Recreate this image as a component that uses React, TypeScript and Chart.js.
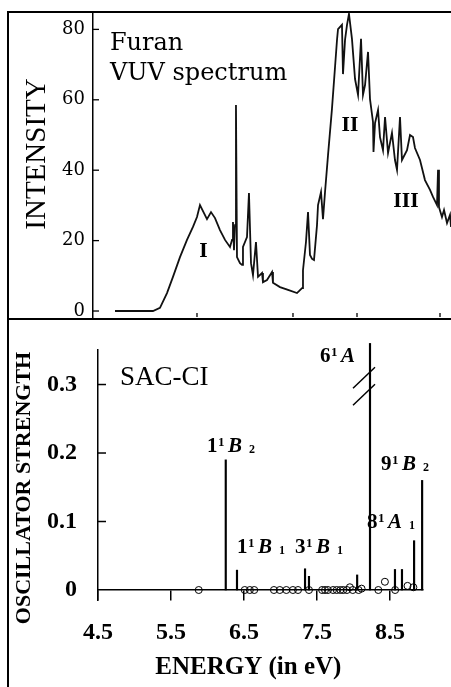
import React, { useEffect, useRef } from 'react';
import { Chart, registerables } from 'chart.js';

Chart.register(...registerables);

// ---------- Top panel: Furan VUV spectrum ----------
const TOP_ENERGY = [
  4.733, 5.253, 5.349, 5.445, 5.527, 5.623, 5.719, 5.801, 5.856, 5.897,
  5.952, 5.993, 6.048, 6.103, 6.171, 6.24, 6.308, 6.336, 6.349, 6.363,
  6.377, 6.39, 6.404, 6.445, 6.473, 6.486, 6.541, 6.568, 6.596, 6.623,
  6.664, 6.692, 6.747, 6.76, 6.815, 6.884, 6.897, 6.993, 7.103, 7.226,
  7.295, 7.308, 7.349, 7.377, 7.404, 7.432, 7.459, 7.5, 7.514, 7.555,
  7.582, 7.61, 7.651, 7.705, 7.747, 7.774, 7.788, 7.842, 7.856, 7.884,
  7.911, 7.938, 7.979, 8.021, 8.062, 8.103, 8.13, 8.158, 8.199, 8.226,
  8.267, 8.274, 8.295, 8.336, 8.363, 8.404, 8.432, 8.473, 8.527, 8.568,
  8.596, 8.637, 8.664, 8.733, 8.774, 8.815, 8.842, 8.911, 8.979, 9.048,
  9.089, 9.144, 9.158, 9.171, 9.212, 9.24, 9.281, 9.322, 9.336,
];
const TOP_INTENSITY = [
  0, 0, 0.9, 5.1, 9.7, 15.3, 20.2, 23.9, 26.7, 30.1,
  27.8, 26.1, 28.1, 26.4, 23.0, 20.2, 18.2, 20.2, 25.3, 17.3,
  24.4, 58.5, 15.3, 13.6, 13.1, 18.2, 21.0, 33.5, 13.6, 10.2,
  19.6, 9.7, 10.8, 8.2, 8.8, 11.1, 8.0, 6.8, 6.0, 5.1,
  6.5, 11.6, 19.6, 28.1, 15.9, 14.8, 14.5, 24.4, 30.1, 33.8,
  26.1, 33.8, 44.3, 57.4, 69.3, 77.0, 80.1, 81.3, 67.3, 77.0,
  81.3, 84.4, 77.3, 65.9, 61.4, 77.3, 61.4, 64.2, 73.6, 60.2,
  53.7, 45.2, 53.4, 57.1, 49.4, 45.7, 55.1, 44.9, 50.6, 42.9,
  40.1, 55.1, 42.9, 45.7, 50.0, 49.4, 46.3, 42.9, 37.2, 34.4,
  32.4, 30.1, 40.1, 29.5, 26.7, 28.7, 25.0, 27.3, 23.9,
];
const TOP_Y_TICKS = [0, 20, 40, 60, 80];
const TOP_X_MARKS = [5.856, 7.171, 8.048, 9.185];
const TOP_TITLE = ['Furan', 'VUV spectrum'];
const BAND_NAMES = ['I', 'II', 'III'];
const BAND_POS_E = [5.945, 7.952, 8.719];
const BAND_POS_I = [15.3, 51.1, 29.5];

// ---------- Bottom panel: SAC-CI oscillator strengths ----------
const STICK_ENERGY = [6.25, 6.404, 7.336, 7.39, 8.05, 8.226, 8.568, 8.664, 8.83, 8.94];
const STICK_STRENGTH = [0.19, 0.029, 0.031, 0.02, 0.022, 0.36, 0.03, 0.03, 0.072, 0.16];
const CIRCLE_ENERGY = [
  5.88, 6.51, 6.58, 6.64, 6.91, 6.99, 7.08, 7.17, 7.24, 7.39,
  7.57, 7.61, 7.65, 7.72, 7.77, 7.82, 7.86, 7.91, 7.95, 7.99,
  8.07, 8.11, 8.34, 8.43, 8.57, 8.74, 8.82,
];
const CIRCLE_STRENGTH = [
  0, 0, 0, 0, 0, 0, 0, 0, 0, 0,
  0, 0, 0, 0, 0, 0, 0, 0, 0.004, 0,
  0, 0.002, 0, 0.012, 0, 0.006, 0.004,
];
const BOTTOM_X_TICKS = [4.5, 5.5, 6.5, 7.5, 8.5];
const BOTTOM_Y_TICKS = [0, 0.1, 0.2, 0.3];
const STATE_NUM = ['1', '1', '3', '6', '8', '9'];
const STATE_MULT = ['1', '1', '1', '1', '1', '1'];
const STATE_SYM = ['B', 'B', 'B', 'A', 'A', 'B'];
const STATE_SUB = ['2', '1', '1', '', '1', '2'];
const STATE_AT_E = [5.993, 6.404, 7.199, 7.541, 8.185, 8.377];
const STATE_AT_F = [0.2015, 0.054, 0.054, 0.333, 0.0905, 0.175];
const BROKEN_STATE_E = 8.226;
const BREAK_AT = [0.318, 0.293];

const SERIF = '"Liberation Serif", "Times New Roman", serif';
const CENTURY = '"DejaVu Serif", serif';

function drawState(ctx: CanvasRenderingContext2D, x: number, y: number, num: string, mult: string, sym: string, sub: string) {
  ctx.fillStyle = '#000';
  ctx.textAlign = 'left';
  ctx.textBaseline = 'alphabetic';
  ctx.font = `bold 21px ${SERIF}`;
  ctx.fillText(num, x, y);
  x += ctx.measureText(num).width;
  ctx.font = `bold 13px ${SERIF}`;
  ctx.fillText(mult, x + 0.5, y - 6);
  x += ctx.measureText(mult).width + 4;
  ctx.font = `italic bold 21px ${SERIF}`;
  ctx.fillText(sym, x, y);
  x += ctx.measureText(sym).width + 7;
  if (sub) {
    ctx.font = `bold 12px ${SERIF}`;
    ctx.fillText(sub, x, y + 1);
  }
}

const topAnnotations = {
  id: 'topAnnotations',
  afterDraw(chart: any) {
    const ctx: CanvasRenderingContext2D = chart.ctx;
    const xs = chart.scales.x;
    const ys = chart.scales.y;
    const area = chart.chartArea;
    ctx.save();
    ctx.strokeStyle = '#000';
    ctx.lineWidth = 1.3;
    TOP_Y_TICKS.forEach((v) => {
      const py = ys.getPixelForValue(v);
      ctx.beginPath();
      ctx.moveTo(area.left, py);
      ctx.lineTo(area.left + 6, py);
      ctx.stroke();
    });
    TOP_X_MARKS.forEach((v) => {
      const px = xs.getPixelForValue(v);
      ctx.beginPath();
      ctx.moveTo(px, area.bottom);
      ctx.lineTo(px, area.bottom - 4);
      ctx.stroke();
    });
    ctx.fillStyle = '#000';
    ctx.font = `24px ${CENTURY}`;
    ctx.textAlign = 'left';
    ctx.textBaseline = 'alphabetic';
    ctx.fillText(TOP_TITLE[0], xs.getPixelForValue(4.664), ys.getPixelForValue(74.1));
    ctx.fillText(TOP_TITLE[1], xs.getPixelForValue(4.664), ys.getPixelForValue(65.6));
    ctx.font = `bold 18px ${CENTURY}`;
    ctx.textAlign = 'center';
    BAND_NAMES.forEach((b, i) => {
      ctx.fillText(b, xs.getPixelForValue(BAND_POS_E[i]), ys.getPixelForValue(BAND_POS_I[i]));
    });
    ctx.translate(37, 154);
    ctx.rotate(-Math.PI / 2);
    ctx.font = `29px ${SERIF}`;
    ctx.textAlign = 'center';
    ctx.textBaseline = 'middle';
    ctx.fillText('INTENSITY', 0, 0);
    ctx.restore();
  },
};

const bottomAnnotations = {
  id: 'bottomAnnotations',
  afterDraw(chart: any) {
    const ctx: CanvasRenderingContext2D = chart.ctx;
    const xs = chart.scales.x;
    const ys = chart.scales.y;
    const area = chart.chartArea;
    ctx.save();
    ctx.strokeStyle = '#000';
    ctx.lineWidth = 1.5;
    BOTTOM_Y_TICKS.forEach((v) => {
      if (v === 0) return;
      const py = ys.getPixelForValue(v);
      ctx.beginPath();
      ctx.moveTo(area.left, py);
      ctx.lineTo(area.left + 8, py);
      ctx.stroke();
    });
    const bx = xs.getPixelForValue(BROKEN_STATE_E);
    BREAK_AT.forEach((v) => {
      const py = ys.getPixelForValue(v);
      ctx.beginPath();
      ctx.moveTo(bx - 17, py + 16);
      ctx.lineTo(bx + 5, py - 5);
      ctx.stroke();
    });
    ctx.fillStyle = '#000';
    ctx.font = `27px ${SERIF}`;
    ctx.textAlign = 'left';
    ctx.textBaseline = 'alphabetic';
    ctx.fillText('SAC-CI', xs.getPixelForValue(4.8), ys.getPixelForValue(0.299));
    STATE_NUM.forEach((n, i) => {
      drawState(ctx, xs.getPixelForValue(STATE_AT_E[i]), ys.getPixelForValue(STATE_AT_F[i]), n, STATE_MULT[i], STATE_SYM[i], STATE_SUB[i]);
    });
    ctx.font = `bold 25px ${SERIF}`;
    ctx.textAlign = 'center';
    ctx.textBaseline = 'middle';
    ctx.fillText('ENERGY (in eV)', xs.getPixelForValue(6.56), area.bottom + 68);
    ctx.translate(24, 168);
    ctx.rotate(-Math.PI / 2);
    ctx.font = `bold 22px ${SERIF}`;
    ctx.fillText('OSCILLATOR STRENGTH', 0, 0);
    ctx.restore();
  },
};

export default function App() {
  const topRef = useRef<HTMLCanvasElement | null>(null);
  const botRef = useRef<HTMLCanvasElement | null>(null);

  useEffect(() => {
    const topChart = new Chart(topRef.current as HTMLCanvasElement, {
      type: 'line',
      data: {
        datasets: [
          {
            data: TOP_ENERGY.map((x, i) => ({ x, y: TOP_INTENSITY[i] })),
            borderColor: '#111',
            borderWidth: 1.8,
            pointRadius: 0,
            tension: 0,
            fill: false,
          },
        ],
      },
      options: {
        animation: false,
        responsive: false,
        layout: { padding: { top: 12, bottom: 3, left: 0, right: 0 } },
        plugins: { legend: { display: false }, tooltip: { enabled: false } },
        scales: {
          x: { type: 'linear', display: false, min: 4.4315, max: 9.3356 },
          y: {
            type: 'linear',
            min: -1.7,
            max: 84.94,
            afterFit: (s: any) => { s.width = 93; s.paddingTop = 0; s.paddingBottom = 0; },
            afterBuildTicks: (s: any) => { s.ticks = TOP_Y_TICKS.map((v) => ({ value: v })); },
            grid: { display: false, drawTicks: false },
            border: { display: true, color: '#000', width: 1.5 },
            ticks: {
              color: '#000',
              padding: 8,
              font: { family: CENTURY, size: 18 },
              callback: (v: any) => String(v),
            },
          },
        },
      } as any,
      plugins: [topAnnotations],
    });

    const botChart = new Chart(botRef.current as HTMLCanvasElement, {
      type: 'bar',
      data: {
        datasets: [
          {
            type: 'bar',
            data: STICK_ENERGY.map((x, i) => ({ x, y: STICK_STRENGTH[i] })),
            backgroundColor: '#000',
            barThickness: 1.5,
            clip: false,
          } as any,
          {
            type: 'scatter',
            data: CIRCLE_ENERGY.map((x, i) => ({ x, y: CIRCLE_STRENGTH[i] })),
            pointStyle: 'circle',
            pointRadius: 3.5,
            borderColor: '#000',
            borderWidth: 1,
            backgroundColor: 'rgba(0,0,0,0)',
            clip: false,
            showLine: false,
          } as any,
        ],
      },
      options: {
        animation: false,
        responsive: false,
        layout: { padding: { top: 30, bottom: 87, left: 0, right: 28 } },
        plugins: { legend: { display: false }, tooltip: { enabled: false } },
        scales: {
          x: {
            type: 'linear',
            min: 4.5,
            max: 8.952,
            offset: false,
            position: { y: 0 },
            afterBuildTicks: (s: any) => { s.ticks = BOTTOM_X_TICKS.map((v) => ({ value: v })); },
            grid: { display: true, drawOnChartArea: false, drawTicks: true, tickLength: 10, color: '#000', lineWidth: 1.5, offset: false },
            border: { display: true, color: '#000', width: 1.5 },
            ticks: {
              color: '#000',
              padding: 18,
              autoSkip: false,
              maxRotation: 0,
              font: { family: SERIF, size: 24, weight: 'bold' },
              callback: (v: any) => Number(v).toFixed(1),
            },
          },
          y: {
            type: 'linear',
            min: -0.0146,
            max: 0.3504,
            afterFit: (s: any) => { s.width = 98; s.paddingTop = 0; s.paddingBottom = 0; },
            afterBuildTicks: (s: any) => { s.ticks = BOTTOM_Y_TICKS.map((v) => ({ value: v })); },
            grid: { display: false, drawTicks: false },
            border: { display: true, color: '#000', width: 1.5 },
            ticks: {
              color: '#000',
              padding: 21,
              font: { family: SERIF, size: 24, weight: 'bold' },
              callback: (v: any) => (Number(v) === 0 ? '0' : Number(v).toFixed(1)),
            },
          },
        },
      } as any,
      plugins: [bottomAnnotations],
    });

    return () => {
      topChart.destroy();
      botChart.destroy();
    };
  }, []);

  return (
    <div style={{ position: 'absolute', left: 0, top: 0, width: 451, height: 687, background: '#fff', overflow: 'hidden' }}>
      <div style={{ position: 'absolute', left: 0, top: 0, width: 451, height: 320 }}>
        <canvas ref={topRef} width={451} height={320} style={{ display: 'block' }} />
      </div>
      <div style={{ position: 'absolute', left: 0, top: 320, width: 451, height: 367 }}>
        <canvas ref={botRef} width={451} height={367} style={{ display: 'block' }} />
      </div>
      <div style={{ position: 'absolute', left: 7, top: 11, width: 444, height: 2, background: '#000' }} />
      <div style={{ position: 'absolute', left: 7, top: 11, width: 2, height: 676, background: '#000' }} />
      <div style={{ position: 'absolute', left: 7, top: 318, width: 444, height: 2, background: '#000' }} />
    </div>
  );
}
